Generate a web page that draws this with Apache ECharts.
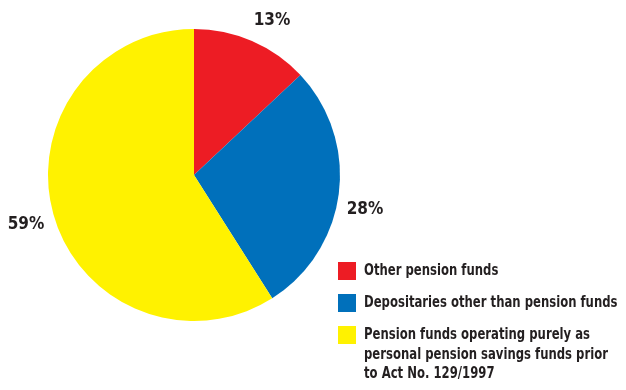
<!DOCTYPE html>
<html>
<head>
<meta charset="utf-8">
<script src="https://cdn.jsdelivr.net/npm/echarts@6/dist/echarts.min.js"></script>
<style>
  html, body { margin: 0; padding: 0; background: #fff; }
  #chart { width: 626px; height: 390px; }
</style>
</head>
<body>
<div id="chart"></div>
<script>
// Categories, shares (%) and slice colours
const categories = [
  'Other pension funds',
  'Depositaries other than pension funds',
  'Pension funds operating purely as personal pension savings funds prior to Act No. 129/1997'
];
const legendLines = [
  ['Other pension funds'],
  ['Depositaries other than pension funds'],
  ['Pension funds operating purely as', 'personal pension savings funds prior', 'to Act No. 129/1997']
];
const shares = [13, 28, 59];
const colors = ['#ED1C24', '#0070BB', '#FFF200'];

const FONT = '"DejaVu Sans Condensed", "Liberation Sans Narrow", sans-serif';
const TEXT = '#231F20';

// Percentage label anchors
const labelPos = [[272, 21], [365, 210], [26, 225]];

const chart = echarts.init(document.getElementById('chart'), null, { renderer: 'canvas' });

// Legend built as graphic rows: swatch + wrapped, horizontally condensed text
const legendTop = 262, rowStep = 32, lineH = 19.5;
const graphics = [];
categories.forEach((name, i) => {
  const y = legendTop + i * rowStep;
  graphics.push({
    type: 'rect', left: 338, top: y,
    shape: { width: 18, height: 18 },
    style: { fill: colors[i] }
  });
  graphics.push({
    type: 'text', x: 364, y: y + 9 - lineH / 2,
    scaleX: 0.81,
    style: {
      text: legendLines[i].join('\n'),
      font: 'bold 16px ' + FONT,
      fill: TEXT,
      lineHeight: lineH,
      verticalAlign: 'top',
      align: 'left'
    }
  });
});

chart.setOption({
  animation: false,
  backgroundColor: '#fff',
  color: colors,
  graphic: graphics,
  series: [{
    type: 'pie',
    center: [194, 175],
    radius: 146,
    startAngle: 90,
    clockwise: true,
    avoidLabelOverlap: false,
    itemStyle: { borderWidth: 0 },
    emphasis: { disabled: true },
    label: {
      show: true,
      position: 'inside',
      formatter: p => p.value + '%',
      fontFamily: FONT,
      fontWeight: 'bold',
      fontSize: 17,
      color: TEXT
    },
    labelLine: { show: false },
    labelLayout: p => ({
      x: labelPos[p.dataIndex][0],
      y: labelPos[p.dataIndex][1],
      align: 'center',
      verticalAlign: 'middle'
    }),
    data: categories.map((name, i) => ({ name, value: shares[i] }))
  }]
});
</script>
</body>
</html>
